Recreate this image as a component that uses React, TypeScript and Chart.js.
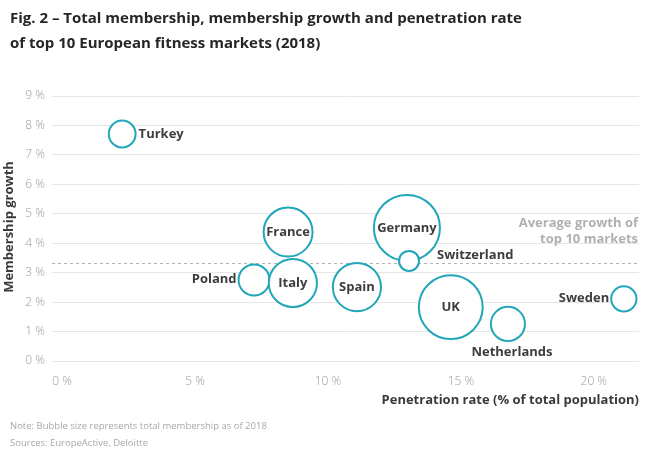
import React, { useEffect, useRef } from 'react';
import { Chart, registerables } from 'chart.js';

Chart.register(...registerables);

// ---- Data ----
const countries = ['Germany', 'UK', 'France', 'Poland', 'Italy', 'Spain', 'Netherlands', 'Turkey', 'Sweden', 'Switzerland'];
const penetrationRate = [12.97, 14.62, 8.5, 7.22, 8.68, 11.09, 16.77, 2.26, 21.13, 13.05]; // % of population
const membershipGrowth = [4.52, 1.83, 4.38, 2.75, 2.65, 2.51, 1.26, 7.71, 2.11, 3.4]; // %
const totalMembership = [10.9, 10.2, 6.0, 2.4, 5.8, 5.8, 2.9, 1.8, 1.6, 1.0]; // millions
const averageGrowth = 3.34;
const xTickValues = [0, 5, 10, 15, 20];
const yTickValues = [0, 1, 2, 3, 4, 5, 6, 7, 8, 9];

const titleLines = ['Fig. 2 – Total membership, membership growth and penetration rate', 'of top 10 European fitness markets (2018)'];
const xAxisTitle = 'Penetration rate (% of total population)';
const yAxisTitle = 'Membership growth';
const averageLabel = ['Average growth of', 'top 10 markets'];
const notes = ['Note: Bubble size represents total membership as of 2018', 'Sources: EuropeActive, Deloitte'];

// label placement per bubble (style only)
const labelPlacement = ['center', 'center', 'center', 'left', 'center', 'center', 'below', 'right', 'left', 'upright'];

const FONT = '"Open Sans", "Noto Sans", sans-serif';
const TEAL = '#22a6b9';

export default function App() {
  const ref = useRef<HTMLCanvasElement>(null);

  useEffect(() => {
    const canvas = ref.current;
    if (!canvas) return;

    const overlay = {
      id: 'overlay',
      beforeDatasetsDraw(chart: any) {
        const { ctx, chartArea, scales } = chart;
        const y = Math.round(scales.y.getPixelForValue(averageGrowth)) + 0.5;
        ctx.save();
        ctx.strokeStyle = '#b5b5b5';
        ctx.lineWidth = 1;
        ctx.setLineDash([3, 3]);
        ctx.beginPath();
        ctx.moveTo(chartArea.left, y);
        ctx.lineTo(chartArea.right, y);
        ctx.stroke();
        ctx.restore();

        ctx.save();
        ctx.fillStyle = '#b0b0b0';
        ctx.font = `bold 13px ${FONT}`;
        ctx.textAlign = 'right';
        ctx.textBaseline = 'middle';
        ctx.fillText(averageLabel[0], chartArea.right - 1, y - 40);
        ctx.fillText(averageLabel[1], chartArea.right - 1, y - 24);
        ctx.restore();
      },
      afterDatasetsDraw(chart: any) {
        const { ctx } = chart;
        const meta = chart.getDatasetMeta(0);
        ctx.save();
        ctx.fillStyle = '#3d3d3d';
        ctx.font = `bold 13px ${FONT}`;
        ctx.textBaseline = 'middle';
        meta.data.forEach((el: any, i: number) => {
          const r = el.options.radius + 1;
          const p = labelPlacement[i];
          let x = el.x, y = el.y;
          if (p === 'center') { ctx.textAlign = 'center'; }
          else if (p === 'right') { ctx.textAlign = 'left'; x = el.x + r + 2; }
          else if (p === 'left') { ctx.textAlign = 'right'; x = el.x - r - 1; y = el.y - 1; }
          else if (p === 'below') { ctx.textAlign = 'center'; x = el.x + 4; y = el.y + r + 10; }
          else if (p === 'upright') { ctx.textAlign = 'left'; x = el.x + 28; y = el.y - 6; }
          ctx.fillText(countries[i], x, y);
        });
        ctx.restore();
      },
      afterDraw(chart: any) {
        const { ctx, chartArea } = chart;
        ctx.save();
        ctx.fillStyle = '#262626';
        ctx.font = `bold 15px ${FONT}`;
        ctx.textAlign = 'left';
        ctx.textBaseline = 'alphabetic';
        ctx.fillText(titleLines[0], 10, 23);
        ctx.fillText(titleLines[1], 10, 48);

        ctx.fillStyle = '#3a3a3a';
        ctx.font = `bold 13px ${FONT}`;
        ctx.textAlign = 'right';
        ctx.textBaseline = 'middle';
        ctx.fillText(xAxisTitle, chartArea.right, 400);

        ctx.save();
        ctx.translate(9, 227);
        ctx.rotate(-Math.PI / 2);
        ctx.textAlign = 'center';
        ctx.fillText(yAxisTitle, 0, 0);
        ctx.restore();

        ctx.fillStyle = '#a8a8a8';
        ctx.font = `9.5px ${FONT}`;
        ctx.textAlign = 'left';
        ctx.fillText(notes[0], 10, 426);
        ctx.fillText(notes[1], 10, 443);
        ctx.restore();
      },
    };

    const chart = new Chart(canvas, {
      type: 'bubble',
      data: {
        datasets: [
          {
            data: countries.map((c, i) => ({ x: penetrationRate[i], y: membershipGrowth[i], r: 10 * Math.sqrt(totalMembership[i]) })),
            backgroundColor: '#ffffff',
            borderColor: TEAL,
            borderWidth: 2,
            clip: false as any,
          },
        ],
      },
      options: {
        responsive: false,
        animation: false,
        events: [],
        layout: { autoPadding: false, padding: { top: 96, right: 11, left: 0, bottom: 0 } },
        plugins: { legend: { display: false }, tooltip: { enabled: false } },
        scales: {
          x: {
            type: 'linear',
            min: -0.38,
            max: 21.7,
            afterBuildTicks: (s: any) => { s.ticks = xTickValues.map((v) => ({ value: v })); },
            afterFit: (s: any) => { s.height = 99; },
            grid: { display: false },
            border: { display: false },
            ticks: {
              padding: 5,
              color: '#9a9a9a',
              font: { family: FONT, size: 12, weight: '300' as any },
              maxRotation: 0,
              autoSkip: false,
              callback: (v: any) => `${v} %`,
            },
          },
          y: {
            min: 0,
            max: 9,
            afterBuildTicks: (s: any) => { s.ticks = yTickValues.map((v) => ({ value: v })); },
            afterFit: (s: any) => { s.width = 52; },
            grid: { color: '#e6e6e6', drawTicks: false, lineWidth: 1 },
            border: { display: false },
            ticks: {
              padding: 7,
              color: '#9a9a9a',
              font: { family: FONT, size: 12, weight: '300' as any },
              callback: (v: any) => `${v} %`,
            },
          },
        },
      },
      plugins: [overlay],
    });

    return () => chart.destroy();
  }, []);

  return (
    <div style={{ position: 'absolute', left: 0, top: 0, width: 650, height: 460, background: '#ffffff' }}>
      <canvas ref={ref} width={650} height={460} style={{ display: 'block' }} />
    </div>
  );
}
